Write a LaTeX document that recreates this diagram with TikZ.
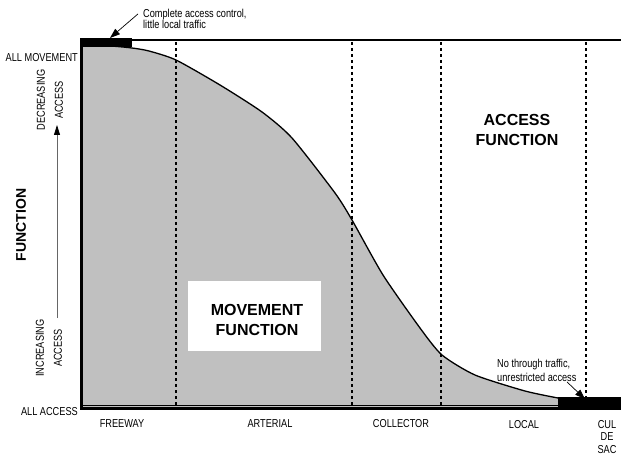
\documentclass[tikz,border=0pt]{standalone}
\usepackage{fontspec}
\setmainfont{Liberation Sans}
\newfontfamily\narrowfont[FakeStretch=0.8]{Liberation Sans}
\usetikzlibrary{arrows.meta,calc,positioning}
\definecolor{areagray}{RGB}{192,192,192}

\begin{document}
\begin{tikzpicture}[x=1pt,y=-1pt,
  lbl/.style={font=\narrowfont\fontsize{11.5}{13.5}\selectfont,inner sep=0pt,align=center},
  side/.style={lbl,rotate=90,font=\narrowfont\fontsize{11.5}{18}\selectfont},
  big/.style={font=\bfseries\fontsize{16}{20}\selectfont,align=center,inner sep=0pt},
  divider/.style={line width=1.6pt,dash pattern=on 3pt off 3pt},
  pointer/.style={-{Triangle[length=10pt,width=7pt]},line width=0.7pt}]
  \useasboundingbox (0,0) rectangle (621,457);

  % area under the curve
  \fill[areagray] (81,407) -- plot[smooth,tension=0.4] coordinates {(81,46) (110,46) (132,48) (149,51) (176,60) (220,85) (262,112) (292,138) (335,193) (352,220) (383,275) (420,328) (442,355) (475,375) (525,391) (558,398)} -- (558,407) -- cycle;
  \fill[white] (188,281) rectangle (321,351);

  % class boundaries
  \foreach \x in {176,352,441,586}
    \draw[divider] (\x,42) -- (\x,405);

  \draw[line width=1.3pt] plot[smooth,tension=0.4] coordinates {(81,46) (110,46) (132,48) (149,51) (176,60) (220,85) (262,112) (292,138) (335,193) (352,220) (383,275) (420,328) (442,355) (475,375) (525,391) (558,398)};

  % frame
  \draw[line width=1.5pt] (81,40) -- (621,40);
  \fill (79.5,38.5) rectangle (132,47.5);
  \draw[line width=0.8pt] (81,405) -- (558,405);
  \draw[line width=2.5pt] (80,408.5) -- (621,408.5);
  \fill (558,397) rectangle (621,410);
  \draw[line width=3pt] (81,39) -- (81,410);

  \node[big] (movement) at (257,320) {MOVEMENT\\FUNCTION};
  \node[big] (access) at (517,130) {ACCESS\\FUNCTION};

  % vertical axis
  \node[lbl,anchor=east] (allmove) at (78,58) {ALL MOVEMENT};
  \node[lbl,anchor=east] (allaccess) at (78,412) {ALL ACCESS};
  \node[side] (decr) at (50,100) {DECREASING\\ACCESS};
  \node[side] (incr) at (49,348) {INCREASING\\ACCESS};
  \node[big,rotate=90,font=\bfseries\fontsize{14}{16}\selectfont] (func) at (21,225) {FUNCTION};
  \coordinate (uptip) at (57,125);
  \coordinate (upfoot) at (57,318);
  \draw[-{Triangle[length=10pt,width=6pt,color=black]},black!60,line width=0.8pt] (upfoot) -- (uptip);

  % road classes
  \node[lbl] (freeway) at (122,424) {FREEWAY};
  \node[lbl] (arterial) at (270,424) {ARTERIAL};
  \node[lbl] (collector) at (401,424) {COLLECTOR};
  \node[lbl] (local) at (524,425) {LOCAL};
  \node[lbl,font=\narrowfont\fontsize{11.5}{12.5}\selectfont] (culdesac) at (607,437) {CUL\\DE\\SAC};

  % notes
  \node[lbl,anchor=north west,align=left,font=\narrowfont\fontsize{11.5}{11}\selectfont] (ctrl) at (143,9) {Complete access control,\\little local traffic};
  \coordinate (ctrltip) at (110,38);
  \draw[pointer] ([xshift=-5pt,yshift=5pt]ctrl.west) -- (ctrltip);

  \node[lbl,anchor=west,align=left,font=\narrowfont\fontsize{11.5}{14}\selectfont] (nothru) at (497,370.5) {No through traffic,\\unrestricted access};
  \coordinate (cdstip) at (585,399);
  \draw[pointer] ($(nothru.south west)+(70,0)$) -- (cdstip);
\end{tikzpicture}
\end{document}
